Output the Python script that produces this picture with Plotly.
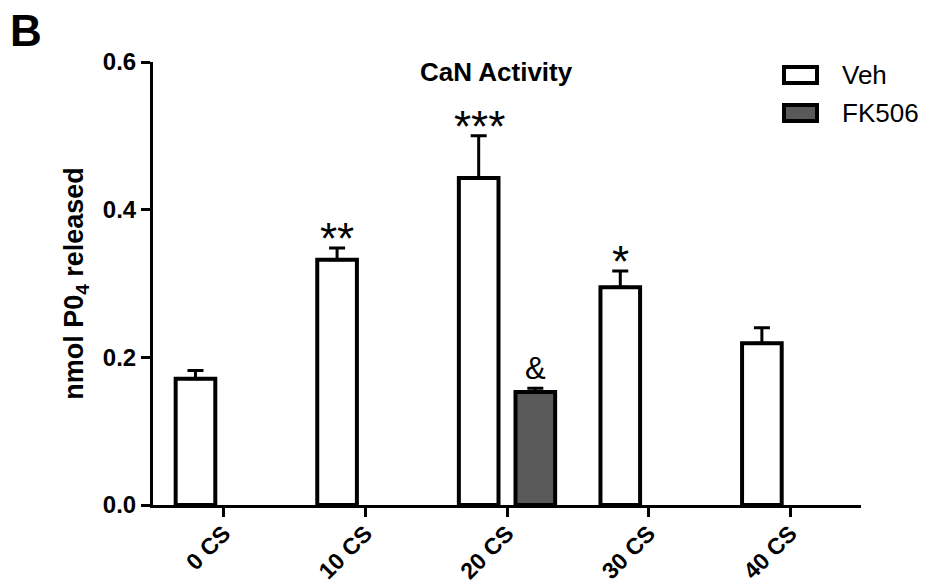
import plotly.graph_objects as go

categories = ["0 CS", "10 CS", "20 CS", "30 CS", "40 CS"]
veh_values = [0.171, 0.332, 0.443, 0.295, 0.219]
veh_err = [0.011, 0.016, 0.057, 0.022, 0.021]
fk_values = [None, None, 0.153, None, None]
fk_err = [0, 0, 0.005, 0, 0]
veh_marks = ["", "**", "***", "*", ""]
fk_marks = ["", "", "&", "", ""]
series_names = ["Veh", "FK506"]
series_fills = ["white", "#595959"]

FONT = "Liberation Sans, Arial, sans-serif"

W, H = 950, 586
L, R, T, B = 153, 89, 62, 81
pw, ph = W - L - R, H - T - B


def px(x):
    return (x - L) / pw


def py(y):
    return (H - B - y) / ph


fig = go.Figure()
fig.add_trace(go.Bar(
    x=categories, y=veh_values, name=series_names[0], showlegend=False,
    marker=dict(color=series_fills[0], line=dict(color="black", width=4)),
    error_y=dict(type="data", array=veh_err, arrayminus=[0] * 5, symmetric=False,
                 color="black", thickness=3, width=8),
))
fig.add_trace(go.Bar(
    x=categories, y=fk_values, name=series_names[1], showlegend=False,
    marker=dict(color=series_fills[1], line=dict(color="black", width=4)),
    error_y=dict(type="data", array=fk_err, arrayminus=[0] * 5, symmetric=False,
                 color="black", thickness=3, width=8),
))

for i, c in enumerate(categories):
    if veh_marks[i]:
        fig.add_annotation(x=c, y=veh_values[i] + veh_err[i], text=veh_marks[i],
                           xshift=-28, yshift=-17, yanchor="bottom", showarrow=False,
                           font=dict(family=FONT, size=44, color="black"))
    if fk_marks[i]:
        fig.add_annotation(x=c, y=fk_values[i] + fk_err[i], text=fk_marks[i],
                           xshift=28, yshift=0, yanchor="bottom", showarrow=False,
                           font=dict(family=FONT, size=31, color="black"))

# title
fig.add_annotation(x=px(496), y=py(72), xref="paper", yref="paper",
                   text="<b>CaN Activity</b>", showarrow=False,
                   xanchor="center", yanchor="middle",
                   font=dict(family=FONT, size=26, color="black"))
# panel letter
fig.add_annotation(x=px(8), y=py(4), xref="paper", yref="paper", text="<b>B</b>",
                   showarrow=False, xanchor="left", yanchor="top",
                   font=dict(family=FONT, size=44, color="black"))

# legend (drawn as boxes + text)
legend_rows = [(65, 85), (103, 123)]
for (y0, y1), name, fill in zip(legend_rows, series_names, series_fills):
    fig.add_shape(type="rect", xref="paper", yref="paper",
                  x0=px(784), x1=px(817), y0=py(y1 - 2), y1=py(y0 + 2),
                  fillcolor=fill, line=dict(color="black", width=4))
    fig.add_annotation(x=px(840), y=py((y0 + y1) / 2), xref="paper", yref="paper",
                       text=name, showarrow=False, xanchor="left", yanchor="middle",
                       font=dict(family=FONT, size=26, color="black"))

fig.update_layout(
    width=W, height=H,
    margin=dict(l=L, r=R, t=T, b=B),
    paper_bgcolor="white", plot_bgcolor="white",
    barmode="group", bargap=0.2, bargroupgap=0.3,
    font=dict(family=FONT, color="black"),
    showlegend=False,
)
fig.update_xaxes(
    automargin=False,
    showline=True, linecolor="black", linewidth=3,
    ticks="outside", ticklen=9, tickwidth=3, tickcolor="black",
    tickangle=-45, ticklabelstandoff=-6,
    tickfont=dict(family=FONT, size=23, color="black", weight="bold"),
    showgrid=False, zeroline=False,
)
fig.update_yaxes(
    automargin=False,
    range=[0, 0.6], tickvals=[0, 0.2, 0.4, 0.6], ticktext=["0.0", "0.2", "0.4", "0.6"],
    showline=True, linecolor="black", linewidth=3,
    ticks="outside", ticklen=9, tickwidth=3, tickcolor="black",
    tickfont=dict(family=FONT, size=24, color="black", weight="bold"),
    showgrid=False, zeroline=False,
    title=dict(text="<b>nmol P0<sub>4</sub> released</b>", standoff=12,
               font=dict(family=FONT, size=27, color="black")),
)

fig.write_html("out.html", config={"displayModeBar": False},
               post_script="document.body.style.margin='0';")
